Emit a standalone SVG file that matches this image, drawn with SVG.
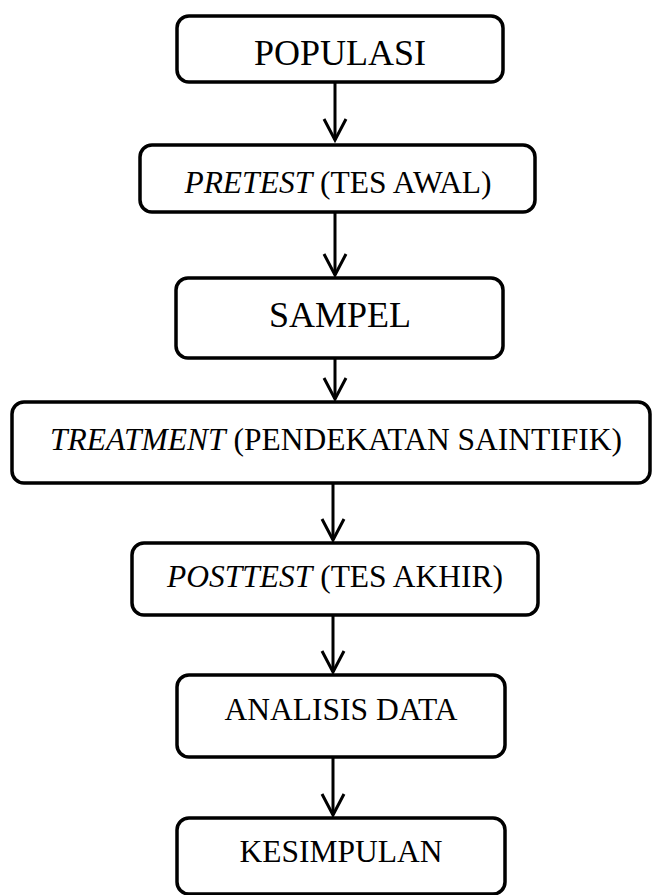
<svg xmlns="http://www.w3.org/2000/svg" width="652" height="895" viewBox="0 0 652 895">
  <style>
    .box { fill: #ffffff; stroke: #000000; stroke-width: 3.5; }
    .lbl { font-family: "Liberation Serif", "Times New Roman", Times, "DejaVu Serif", serif; font-size: 31.5px; fill: #000000; text-anchor: middle; }
    .big { font-size: 36px; }
    .it { font-style: italic; }
    .link { fill: none; stroke: #000000; stroke-width: 3; }
    .head { fill: none; stroke: #000000; stroke-width: 3; stroke-linejoin: miter; }
  </style>
  <rect width="652" height="895" fill="#ffffff"/>

  <g id="populasi">
    <rect class="box" x="177" y="16" width="326" height="66" rx="12"/>
    <text class="lbl big" x="340" y="65">POPULASI</text>
  </g>
  <g id="pretest">
    <rect class="box" x="140" y="145" width="395" height="67" rx="12"/>
    <text class="lbl" x="338" y="193"><tspan class="it">PRETEST</tspan> (TES AWAL)</text>
  </g>
  <g id="sampel">
    <rect class="box" x="176" y="278" width="327" height="80" rx="12"/>
    <text class="lbl big" x="340" y="327">SAMPEL</text>
  </g>
  <g id="treatment">
    <rect class="box" x="12" y="402" width="638" height="81" rx="12"/>
    <text class="lbl" x="336" y="450"><tspan class="it">TREATMENT</tspan> (PENDEKATAN SAINTIFIK)</text>
  </g>
  <g id="posttest">
    <rect class="box" x="132" y="543" width="406" height="72" rx="12"/>
    <text class="lbl" x="335" y="587"><tspan class="it">POSTTEST</tspan> (TES AKHIR)</text>
  </g>
  <g id="analisis">
    <rect class="box" x="177" y="675" width="328" height="82" rx="12"/>
    <text class="lbl" x="341" y="720">ANALISIS DATA</text>
  </g>
  <g id="kesimpulan">
    <rect class="box" x="177" y="818" width="328" height="76" rx="12"/>
    <text class="lbl" x="341" y="862">KESIMPULAN</text>
  </g>

  <g id="connectors">
    <line class="link" x1="335" y1="82" x2="335" y2="140"/>
    <path class="head" d="M324,119 L335,140 L346,119"/>
    <line class="link" x1="335" y1="212" x2="335" y2="275"/>
    <path class="head" d="M324,254 L335,275 L346,254"/>
    <line class="link" x1="335" y1="358" x2="335" y2="399"/>
    <path class="head" d="M324,378 L335,399 L346,378"/>
    <line class="link" x1="333" y1="483" x2="333" y2="540"/>
    <path class="head" d="M322,519 L333,540 L344,519"/>
    <line class="link" x1="333" y1="615" x2="333" y2="672"/>
    <path class="head" d="M322,651 L333,672 L344,651"/>
    <line class="link" x1="333" y1="757" x2="333" y2="815"/>
    <path class="head" d="M322,794 L333,815 L344,794"/>
  </g>
</svg>
